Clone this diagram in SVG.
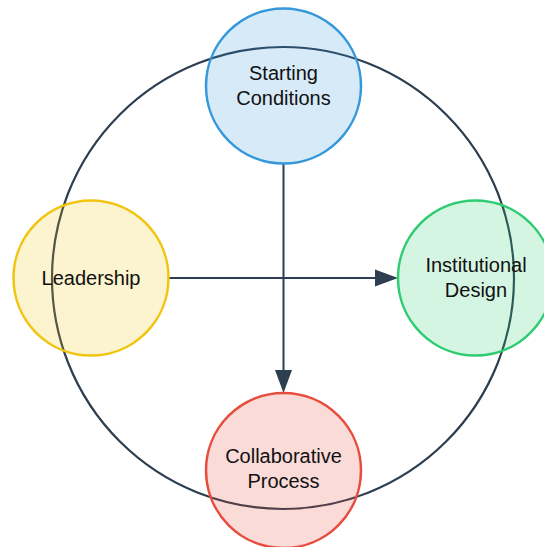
<svg xmlns="http://www.w3.org/2000/svg" width="544" height="547" viewBox="0 0 544 547">
  <style>
    .ring { fill: none; stroke: #2c3e50; stroke-width: 2.2; }
    .node circle { stroke-width: 2.5; fill-opacity: 0.2; }
    .node text { font-family: "Liberation Sans", Arial, sans-serif; font-size: 20px; fill: #111; text-anchor: middle; }
    .edge { stroke: #2c3e50; stroke-width: 2; fill: none; }
    .head { fill: #2c3e50; }
  </style>

  <rect width="544" height="547" fill="#ffffff"/>

  <!-- outer cycle ring -->
  <circle class="ring" cx="283" cy="278" r="231"/>

  <!-- connectors -->
  <g id="connectors">
    <line class="edge" x1="283.5" y1="164" x2="283.5" y2="372"/>
    <polygon class="head" points="283.5,393 275,370 292,370"/>
    <line class="edge" x1="169" y1="278" x2="377" y2="278"/>
    <polygon class="head" points="398,278 375,269.5 375,286.5"/>
  </g>

  <g id="starting-conditions" class="node">
    <circle cx="283.5" cy="86" r="77.5" fill="#3498db" stroke="#3498db"/>
    <text x="283.5" y="80">Starting</text>
    <text x="283.5" y="105">Conditions</text>
  </g>

  <g id="leadership" class="node">
    <circle cx="91" cy="278" r="77.5" fill="#f1c40f" stroke="#f1c40f"/>
    <text x="91" y="285">Leadership</text>
  </g>

  <g id="institutional-design" class="node">
    <circle cx="475.5" cy="278" r="77.5" fill="#2ecc71" stroke="#2ecc71"/>
    <text x="476" y="272">Institutional</text>
    <text x="476" y="297">Design</text>
  </g>

  <g id="collaborative-process" class="node">
    <circle cx="283.5" cy="470.5" r="77.5" fill="#e74c3c" stroke="#e74c3c"/>
    <text x="283.5" y="463">Collaborative</text>
    <text x="283.5" y="488">Process</text>
  </g>
</svg>
